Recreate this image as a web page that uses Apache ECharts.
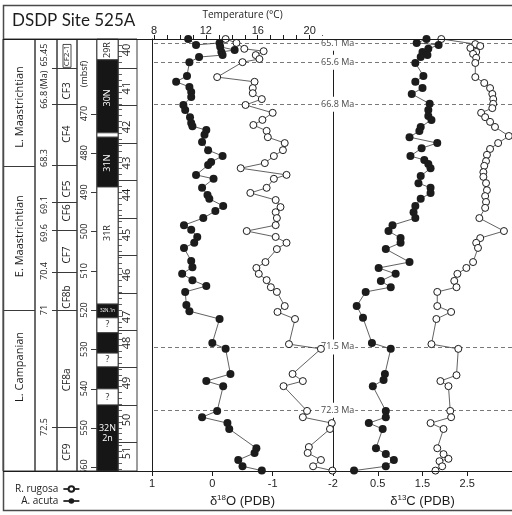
<!DOCTYPE html>
<html>
<head>
<meta charset="utf-8">
<script src="https://cdn.jsdelivr.net/npm/echarts@6/dist/echarts.min.js"></script>
<style>
  html, body { margin: 0; padding: 0; background: #fff; }
  #chart { width: 512px; height: 515px; }
</style>
</head>
<body>
<div id="chart"></div>
<script>
// ---- Depth range of the section (mbsf) ----
const depthMin = 451;
const depthMax = 561;

// ---- Stratigraphic columns ----
const stageNames = ['L. Maastrichtian', 'E. Maastrichtian', 'L. Campanian'];
const stageLabelDepths = [468.3, 501.2, 534.5];
const stageBounds = [483.3, 520.0];

const ageLabels = ['65.45', '(Ma)', '66.8', '68.3', '69.1', '69.6', '70.4', '71', '72.5'];
const ageLabelDepths = [455.1, 461.4, 466.5, 481.3, 493.3, 500.4, 510.1, 520.0, 549.8];

const cfZones = ['CF2-1', 'CF3', 'CF4', 'CF5', 'CF6', 'CF7', 'CF8b', 'CF8a', 'CF9'];
const cfLabelDepths = [455.3, 464.2, 475.2, 489.2, 495.3, 506.0, 516.7, 537.8, 556.2];
const cfBounds = [458.4, 467.6, 483.1, 492.5, 499.6, 510.3, 520.0, 549.8];

const depthTickValues = [470, 480, 490, 500, 510, 520, 530, 540, 550, 560];

// magnetic polarity: 1 = normal (black), 0 = reversed / unknown (white)
const chronTops   = [451.0, 456.3, 474.9, 476.0, 488.7, 518.5, 522.0, 525.8, 531.0, 534.5, 540.1, 544.2];
const chronBases  = [456.3, 474.9, 476.0, 488.7, 518.5, 522.0, 525.8, 531.0, 534.5, 540.1, 544.2, 561.0];
const chronNormal = [0, 1, 0, 1, 0, 1, 0, 1, 0, 1, 0, 1];
const chronLabels = ['29R', '30N', '31N', '31R', '32N.1n', '?', '?', '?', '32N', '2n'];
const chronLabelDepths = [453.8, 466.0, 482.6, 500.4, 520.2, 523.8, 532.7, 542.2, 550.1, 552.6];

const coreNames = ['40', '41', '42', '43', '44', '45', '46', '47', '48', '49', '50', '51'];
const coreLabelDepths = [453.8, 463.5, 473.4, 482.6, 490.7, 500.9, 511.1, 521.8, 528.4, 538.6, 548.0, 556.4];
const coreTops = [458.4, 467.9, 477.5, 487.0, 496.5, 506.0, 515.6, 525.1, 534.6, 544.1, 553.6];

// ---- Age datums ----
const datumLabels = ['65.1 Ma', '65.6 Ma', '66.8 Ma', '71.5 Ma', '72.3 Ma'];
const datumDepths = [452.1, 456.9, 467.6, 529.4, 545.5];

// ---- Isotope records (per mil PDB) ----
const acutaO18Depth = [451.0, 452.5, 452.0, 453.0, 453.8, 454.3, 455.1, 455.6, 456.9, 460.4,
  461.9, 463.2, 464.5, 465.8, 467.8, 469.1, 470.9, 472.4, 473.2, 474.2,
  475.4, 477.2, 479.3, 480.8, 482.3, 483.1, 485.6, 486.6, 488.9, 490.7,
  491.7, 493.5, 494.8, 496.6, 498.4, 499.6, 501.4, 502.9, 504.2, 507.5,
  509.1, 510.8, 512.4, 513.9, 515.4, 518.7, 520.3, 522.3, 528.4, 529.9,
  536.3, 538.1, 539.4, 545.7, 547.3, 548.8, 550.3, 555.2, 556.4, 558.2,
  559.8, 560.9];
const acutaO18 = [0.40, 0.27, -0.12, -0.13, -0.37, -0.15, -0.17, 0.22, 0.38, 0.42,
  0.60, 0.38, 0.35, 0.35, 0.48, 0.45, 0.37, 0.35, 0.33, 0.10,
  0.13, 0.17, 0.07, -0.17, 0.02, 0.07, 0.27, -0.02, 0.17, 0.08,
  0.05, -0.18, -0.05, 0.15, 0.47, 0.35, 0.25, 0.30, 0.47, 0.35,
  0.33, 0.50, 0.33, 0.10, 0.45, 0.43, 0.38, -0.12, 0.00, -0.22,
  -0.30, 0.10, -0.18, -0.08, 0.17, -0.25, -0.28, -0.73, -0.70, -0.43,
  -0.50, -0.82];

const rugosaO18Depth = [451.0, 452.0, 453.5, 454.1, 455.1, 456.1, 456.9, 460.7, 461.9, 463.5,
  464.8, 466.3, 467.8, 469.8, 471.6, 472.9, 474.4, 476.0, 477.5, 479.3,
  480.8, 482.6, 483.9, 485.6, 486.6, 488.9, 490.2, 492.0, 493.8, 495.1,
  496.6, 498.4, 499.9, 501.4, 502.9, 504.5, 507.8, 509.3, 510.8, 512.4,
  514.2, 515.4, 519.0, 520.5, 522.3, 528.7, 529.9, 536.3, 538.1, 539.4,
  545.7, 547.3, 548.8, 550.3, 554.9, 556.4, 558.2, 559.8, 560.9];
const rugosaO18 = [-0.22, -0.40, -0.53, -0.85, -0.72, -0.78, -0.50, -0.08, -0.70, -0.67,
  -0.67, -0.82, -0.55, -1.00, -0.83, -0.68, -0.90, -0.92, -1.20, -1.17,
  -1.02, -0.87, -0.47, -1.23, -1.02, -0.90, -0.63, -1.05, -1.13, -1.05,
  -1.07, -1.05, -0.57, -1.05, -1.23, -1.07, -0.88, -0.73, -0.77, -0.90,
  -0.97, -1.07, -1.20, -1.08, -1.37, -1.27, -1.80, -1.33, -1.50, -1.18,
  -1.57, -1.50, -1.98, -1.95, -1.60, -1.58, -1.80, -1.67, -1.99];

const acutaC13Depth = [451.0, 452.0, 452.5, 453.5, 454.3, 455.1, 455.6, 457.1, 460.4, 461.9,
  463.5, 465.0, 467.5, 469.1, 470.6, 471.6, 473.4, 474.4, 476.0, 477.5,
  478.8, 480.8, 481.8, 482.8, 483.9, 485.9, 487.7, 488.9, 490.2, 491.7,
  493.5, 495.1, 496.6, 498.4, 499.9, 501.7, 502.9, 504.5, 507.8, 509.3,
  510.8, 512.6, 514.2, 515.4, 519.0, 522.0, 528.4, 529.9, 536.3, 537.8,
  539.4, 545.7, 547.3, 548.8, 550.3, 555.2, 556.7, 558.2, 559.8, 560.9];
const acutaC13 = [1.59, 1.37, 1.86, 1.63, 1.50, 1.61, 1.46, 1.34, 1.52, 1.34,
  1.50, 1.26, 1.66, 1.63, 1.63, 1.70, 1.46, 1.43, 1.21, 1.83,
  1.48, 1.23, 1.54, 1.63, 1.68, 1.46, 1.41, 1.68, 1.68, 1.46,
  1.34, 1.30, 1.34, 0.83, 0.74, 1.01, 1.01, 0.68, 1.21, 0.52,
  0.90, 0.57, 0.79, 0.23, 0.03, 0.17, 0.37, 0.79, 0.66, 0.63,
  0.39, 0.68, 0.68, 0.30, 0.61, 0.46, 0.68, 0.86, 0.68, -0.03];

const rugosaC13Depth = [451.0, 452.3, 452.8, 453.3, 454.3, 454.8, 455.8, 457.1, 460.7, 462.2,
  463.5, 465.0, 466.3, 467.5, 468.6, 469.8, 470.9, 472.1, 473.4, 475.7,
  477.5, 479.0, 480.5, 482.1, 483.3, 484.9, 486.1, 487.7, 489.5, 491.0,
  492.5, 494.0, 496.6, 499.9, 501.7, 502.9, 504.2, 507.8, 509.3, 510.8,
  512.6, 514.2, 515.4, 519.0, 520.5, 522.3, 528.7, 529.9, 536.6, 538.1,
  539.4, 545.7, 547.3, 548.8, 550.3, 555.2, 556.7, 557.9, 558.5, 559.8,
  560.9];
const rugosaC13 = [1.92, 2.68, 2.79, 2.57, 2.70, 2.63, 2.70, 2.68, 2.68, 2.88,
  3.01, 3.06, 3.08, 3.08, 3.06, 2.81, 2.90, 3.01, 3.12, 3.43,
  3.19, 3.01, 2.94, 2.92, 2.88, 2.86, 2.86, 2.92, 2.94, 2.90,
  2.92, 2.90, 2.77, 3.32, 2.79, 2.70, 2.74, 2.63, 2.48, 2.28,
  2.21, 2.26, 1.83, 1.83, 2.14, 1.81, 1.70, 2.30, 2.26, 1.90,
  2.08, 2.12, 2.14, 1.68, 1.97, 1.83, 1.97, 2.08, 1.88, 1.94,
  1.79];

// ---- Styling ----
const INK = '#1c1c1c';
const LINE = '#3a3a3a';
const SANS = '"Open Sans", "Noto Sans", sans-serif';
const HELV = '"Liberation Sans", Arial, sans-serif';

// column layout: [left, width]
const columns = [[3, 32], [35, 22], [57, 20], [77, 20], [97, 21], [118, 19]];
const PLOT_TOP = 39, PLOT_H = 432;

function pairs(xs, ys) { return xs.map((x, i) => [x, ys[i]]); }

function depthAxis(gridIndex, extra) {
  return Object.assign({
    type: 'value', gridIndex: gridIndex, min: depthMin, max: depthMax, inverse: true,
    axisLine: { show: false }, axisTick: { show: false }, axisLabel: { show: false },
    splitLine: { show: false }
  }, extra || {});
}

// text labels placed in a column at given depths
function columnText(gridIndex, depths, texts, opt) {
  return {
    type: 'custom', xAxisIndex: gridIndex, yAxisIndex: gridIndex, silent: true,
    clip: !!opt.clip, z: opt.z || 4,
    data: depths.map((d, i) => [i, d]),
    renderItem: function (params, api) {
      const i = api.value(0);
      const p = api.coord([opt.xf, api.value(1)]);
      const rotated = typeof opt.rot === 'function' ? opt.rot(i) : opt.rot;
      const style = {
        text: texts[i],
        fill: opt.fill ? opt.fill(i, api.value(1)) : INK,
        fontSize: opt.size ? (typeof opt.size === 'function' ? opt.size(i) : opt.size) : 10,
        fontFamily: opt.font || SANS,
        align: 'center', verticalAlign: 'middle'
      };
      if (opt.box && opt.box(i)) {
        style.borderColor = INK; style.borderWidth = 0.8; style.padding = [0, 1, 0, 1];
      }
      return { type: 'text', x: p[0], y: p[1], rotation: rotated ? Math.PI / 2 : 0, style: style };
    }
  };
}

// horizontal rules across a column at given depths
function columnRules(gridIndex, depths, x0f, x1f, dx0, dx1) {
  return {
    type: 'custom', xAxisIndex: gridIndex, yAxisIndex: gridIndex, silent: true, z: 3,
    data: depths.map(d => [d]),
    renderItem: function (params, api) {
      const a = api.coord([x0f, api.value(0)]);
      const b = api.coord([x1f, api.value(0)]);
      return {
        type: 'line',
        shape: { x1: a[0] + dx0, y1: Math.round(a[1]) + 0.5, x2: b[0] + dx1, y2: Math.round(b[1]) + 0.5 },
        style: { stroke: LINE, lineWidth: 1 }
      };
    }
  };
}

function chronAt(depth) {
  for (let i = 0; i < chronTops.length; i++) {
    if (depth >= chronTops[i] && depth < chronBases[i]) return chronNormal[i];
  }
  return 0;
}

const grids = [], xAxes = [], yAxes = [];
columns.forEach((c, i) => {
  grids.push({ left: c[0], width: c[1], top: PLOT_TOP, height: PLOT_H, show: true,
    borderColor: LINE, borderWidth: 1, backgroundColor: 'transparent' });
  xAxes.push({ type: 'value', gridIndex: i, min: 0, max: 1, show: false });
  yAxes.push(depthAxis(i));
});
// core column carries the section marks along its right edge
yAxes[5] = depthAxis(5, {
  position: 'right', interval: 1.5,
  axisTick: { show: true, inside: false, length: 4, lineStyle: { color: LINE, width: 0.8 } }
});

// isotope panels
grids.push({ left: 152, top: PLOT_TOP, width: 181, height: PLOT_H });
grids.push({ left: 333, top: PLOT_TOP, width: 180, height: PLOT_H });

const axisLineStyle = { onZero: false, lineStyle: { color: INK, width: 1 } };
const tickLabel = { color: INK, fontSize: 11, fontFamily: HELV };

// 6: delta18O
xAxes.push({
  type: 'value', gridIndex: 6, position: 'bottom', min: -2, max: 1, interval: 1, inverse: true,
  axisLine: axisLineStyle, axisTick: { show: true, length: 5, lineStyle: { color: INK } },
  axisLabel: Object.assign({ margin: 7 }, tickLabel), splitLine: { show: false },
  name: '{t|δ}{s|18}{t|O (PDB)}', nameLocation: 'middle', nameGap: 23,
  nameTextStyle: { rich: {
    t: { fontSize: 13, fontFamily: HELV, color: INK },
    s: { fontSize: 8, fontFamily: HELV, color: INK, padding: [0, 0, 7, 0] }
  } }
});
// 7: temperature scale along the top of the delta18O panel
xAxes.push({
  type: 'value', gridIndex: 6, position: 'top', min: 7.85, max: 21.8,
  axisLine: axisLineStyle,
  axisTick: { show: true, length: 4, customValues: [8, 9, 10, 11, 12, 13, 14, 15, 16, 17, 18, 19, 20, 21],
    lineStyle: { color: INK } },
  axisLabel: Object.assign({ margin: 3, customValues: [8, 12, 16, 20] }, tickLabel),
  splitLine: { show: false },
  name: 'Temperature (°C)', nameLocation: 'middle', nameGap: 19,
  nameTextStyle: { fontSize: 10, fontFamily: SANS, color: INK }
});
// 8: delta13C
xAxes.push({
  type: 'value', gridIndex: 7, position: 'bottom', min: -0.5, max: 3.5,
  axisLine: axisLineStyle,
  axisTick: { show: true, length: 5, customValues: [0.5, 1.5, 2.5], lineStyle: { color: INK } },
  axisLabel: Object.assign({ margin: 7, customValues: [0.5, 1.5, 2.5] }, tickLabel),
  splitLine: { show: false },
  name: '{t|δ}{s|13}{t|C (PDB)}', nameLocation: 'middle', nameGap: 23,
  nameTextStyle: { rich: {
    t: { fontSize: 13, fontFamily: HELV, color: INK },
    s: { fontSize: 8, fontFamily: HELV, color: INK, padding: [0, 0, 7, 0] }
  } }
});
yAxes.push(depthAxis(6, { position: 'left', axisLine: { show: true, onZero: false, lineStyle: { color: INK, width: 1 } } }));
yAxes.push(depthAxis(7, { position: 'left', axisLine: { show: true, onZero: false, lineStyle: { color: INK, width: 1 } } }));

const dashed = { type: [4, 3], color: '#6a6a6a', width: 0.9 };

function isotopeSeries(name, xIdx, yIdx, xs, depths, filled, extra) {
  return Object.assign({
    name: name, type: 'line', xAxisIndex: xIdx, yAxisIndex: yIdx,
    data: pairs(xs, depths), showAllSymbol: true, clip: false, z: 4,
    symbol: 'circle', symbolSize: filled ? 8 : 7,
    itemStyle: filled ? { color: INK } : { color: '#fff', borderColor: INK, borderWidth: 1 },
    lineStyle: { color: LINE, width: 0.8 },
    emphasis: { disabled: true }
  }, extra || {});
}

const series = [
  // stage column
  columnRules(0, stageBounds, 0, 1, 0, 0),
  columnText(0, stageLabelDepths, stageNames, { xf: 0.53, rot: true, size: 11 }),
  // age column
  columnText(1, ageLabelDepths, ageLabels, { xf: 0.45, rot: true, size: 9 }),
  // planktonic foraminiferal zones
  columnRules(2, cfBounds, 0, 1, -5, 0),
  columnText(2, cfLabelDepths, cfZones, { xf: 0.5, rot: true, size: i => (i === 0 ? 8 : 10),
    box: i => i === 0 }),
  // depth scale
  columnRules(3, depthTickValues, 1, 1, -6, 0),
  columnText(3, [459.9].concat(depthTickValues), ['(mbsf)'].concat(depthTickValues.map(String)),
    { xf: 0.35, rot: true, size: 9, clip: true }),
  // magnetic polarity
  {
    type: 'custom', xAxisIndex: 4, yAxisIndex: 4, silent: true, z: 2,
    data: chronTops.map((t, i) => [t, chronBases[i], chronNormal[i]]),
    renderItem: function (params, api) {
      const a = api.coord([0, api.value(0)]);
      const b = api.coord([1, api.value(1)]);
      return { type: 'rect', shape: { x: a[0], y: a[1], width: b[0] - a[0], height: b[1] - a[1] },
        style: { fill: api.value(2) ? '#161616' : '#fff', stroke: LINE, lineWidth: 0.8 } };
    }
  },
  columnText(4, chronLabelDepths, chronLabels, {
    xf: 0.5, rot: i => i < 4, size: i => (i === 4 ? 4.5 : 9),
    fill: (i, d) => (chronAt(d) ? '#fff' : INK)
  }),
  // cores
  columnRules(5, coreTops, 0, 1, 0, 0),
  columnText(5, coreLabelDepths, coreNames, { xf: 0.47, rot: true, size: 11 }),

  // isotope records
  isotopeSeries('R. rugosa', 6, 6, rugosaO18, rugosaO18Depth, false),
  isotopeSeries('A. acuta', 6, 6, acutaO18, acutaO18Depth, true, {
    markLine: {
      silent: true, symbol: ['none', 'none'], z: 1.5, animation: false,
      lineStyle: dashed,
      label: { show: true, position: 'start', distance: -13, formatter: '{b}', fontSize: 9,
        fontFamily: SANS, color: '#4a4a4a', backgroundColor: '#fff', padding: [3, 1, 3, 1] },
      data: datumDepths.map((d, i) => ({ name: datumLabels[i], yAxis: d }))
    }
  }),
  isotopeSeries('R. rugosa', 8, 7, rugosaC13, rugosaC13Depth, false),
  isotopeSeries('A. acuta', 8, 7, acutaC13, acutaC13Depth, true, {
    markLine: {
      silent: true, symbol: ['none', 'none'], z: 1, animation: false,
      lineStyle: dashed, label: { show: false },
      data: datumDepths.map(d => ({ yAxis: d }))
    }
  })
];

const chart = echarts.init(document.getElementById('chart'), null, { renderer: 'canvas' });
chart.setOption({
  animation: false,
  backgroundColor: '#fff',
  grid: grids,
  xAxis: xAxes,
  yAxis: yAxes,
  legend: {
    data: ['R. rugosa', 'A. acuta'], orient: 'vertical', left: 10, top: 478,
    align: 'right', itemGap: 0, itemWidth: 16, itemHeight: 7, selectedMode: false,
    textStyle: { fontSize: 10, fontFamily: SANS, color: INK, lineHeight: 12 }
  },
  graphic: [
    { type: 'rect', silent: true, z: 10, shape: { x: 3.5, y: 5.5, width: 520, height: 505 },
      style: { fill: null, stroke: '#4a4a4a', lineWidth: 1.5 } },
    { type: 'line', silent: true, z: 10, shape: { x1: 3, y1: 39.5, x2: 512, y2: 39.5 },
      style: { stroke: INK, lineWidth: 1 } },
    { type: 'line', silent: true, z: 10, shape: { x1: 3, y1: 471.5, x2: 512, y2: 471.5 },
      style: { stroke: INK, lineWidth: 1 } },
    { type: 'text', silent: true, left: 12, top: 12,
      style: { text: 'DSDP Site 525A', fontSize: 17, fontFamily: 'Lato, "Open Sans", sans-serif', fill: INK } }
  ],
  series: series
});
</script>
</body>
</html>
